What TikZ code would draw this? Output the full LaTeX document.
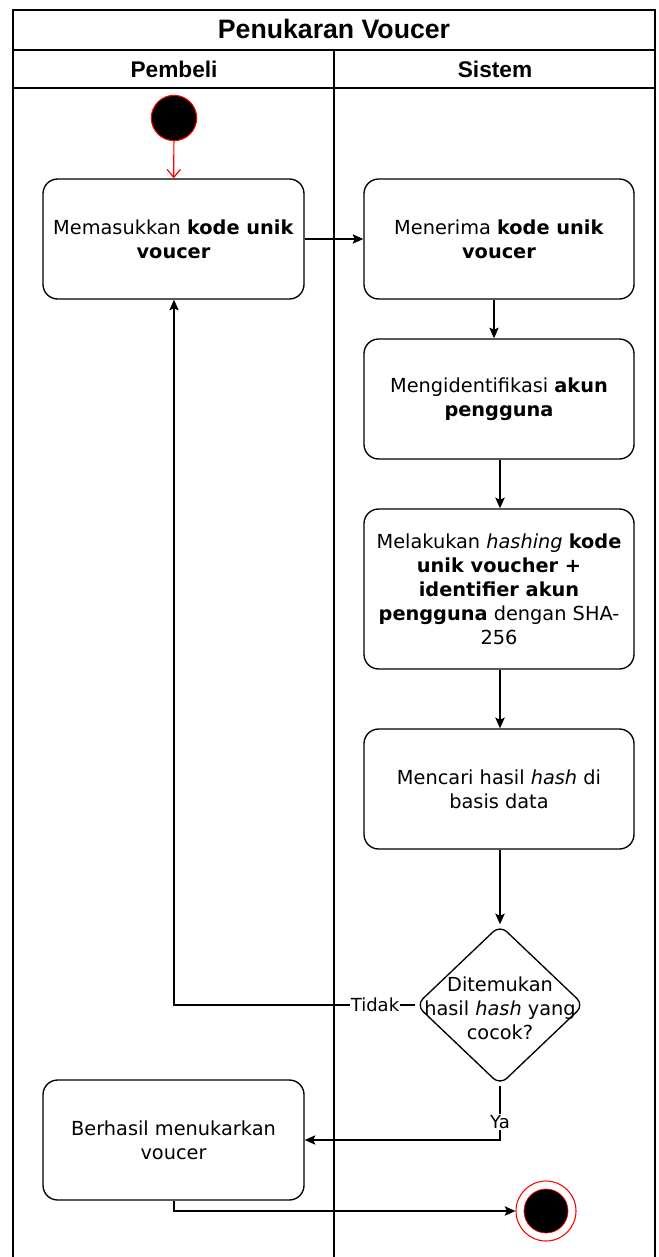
\documentclass[tikz,border=0pt]{standalone}
\usepackage{fontspec}
\setmainfont{DejaVu Sans}
\newfontfamily\headfont{Liberation Sans}
\usetikzlibrary{shapes.geometric,arrows.meta}

\tikzset{
  frame/.style={draw=black, line width=1pt},
  bodyfont/.style={font=\fontsize{14.5}{18}\selectfont},
  actbox/.style={draw=black, line width=1pt, rounded corners=11pt, fill=white,
    align=center, bodyfont, inner sep=2pt},
  decision/.style={draw=black, line width=1pt, diamond, rounded corners=7pt, fill=white,
    minimum width=126pt, minimum height=120pt, inner sep=0pt},
  flow/.style={draw=black, line width=0.9pt, -{Stealth[length=8pt,width=7pt,inset=1.5pt]}},
  lbl/.style={fill=white, inner sep=1pt, font=\fontsize{13.5}{16}\selectfont},
  headtxt/.style={font=\headfont\bfseries\fontsize{17}{20}\selectfont},
}

\begin{document}
\begin{tikzpicture}[x=0.75pt, y=-0.75pt]
  \useasboundingbox (0,0) rectangle (659,1257);

  % swimlane frame
  \draw[frame] (13,1257) -- (13,10) -- (655,10) -- (655,1257);
  \draw[frame] (13,50) -- (655,50);
  \draw[frame] (13,88) -- (655,88);
  \draw[frame] (334,50) -- (334,1257);

  \node[headtxt, font=\headfont\bfseries\fontsize{20}{24}\selectfont] (title) at (334,29) {Penukaran Voucer};
  \node[headtxt] (lane1) at (174,69) {Pembeli};
  \node[headtxt] (lane2) at (495,69) {Sistem};

  % start node
  \node[circle, fill=black, draw=red, line width=0.8pt, minimum size=34pt, inner sep=0pt] (start) at (174,118) {};

  % actions
  \node[actbox, minimum width=195.75pt, minimum height=90pt] (a1) at (173.5,239)
    {Memasukkan \textbf{kode unik}\\ \textbf{voucer}};
  \node[actbox, minimum width=202.5pt, minimum height=90pt] (a2) at (499,239)
    {Menerima \textbf{kode unik}\\ \textbf{voucer}};
  \node[actbox, minimum width=202.5pt, minimum height=90pt] (a3) at (499,399)
    {Mengidentifikasi \textbf{akun}\\ \textbf{pengguna}};
  \node[actbox, minimum width=202.5pt, minimum height=120pt] (a4) at (499,589)
    {Melakukan \textit{hashing} \textbf{kode}\\ \textbf{unik voucher +}\\ \textbf{identifier akun}\\ \textbf{pengguna} dengan SHA-\\ 256};
  \node[actbox, minimum width=202.5pt, minimum height=90pt] (a5) at (499,789)
    {Mencari hasil \textit{hash} di\\ basis data};
  \node[decision, label={[align=center, bodyfont, yshift=-2.5pt]center:{Ditemukan\\ hasil \textit{hash} yang\\ cocok?}}] (d) at (500,1005) {};
  \node[actbox, minimum width=195.75pt, minimum height=90pt] (a6) at (173.5,1140)
    {Berhasil menukarkan\\ voucer};

  % final node
  \node[circle, draw=red, fill=white, line width=0.8pt, minimum size=45pt, inner sep=0pt] (end) at (546,1211) {};
  \node[circle, fill=black, draw=red, line width=0.5pt, minimum size=33pt, inner sep=0pt] (endin) at (546,1211) {};

  % connectors
  \draw[flow, draw=red, -{Straight Barb[length=6pt,width=10pt]}] (start) -- (a1);
  \draw[flow] (a1.east) -- (a2.west);
  \draw[flow] (a2.south -| 494,0) -- (a3.north -| 494,0);
  \draw[flow, line width=1.4pt] (a3.south -| 500,0) -- (a4.north -| 500,0);
  \draw[flow, line width=1.4pt] (a4.south -| 500,0) -- (a5.north -| 500,0);
  \draw[flow, line width=1.4pt] (a5.south -| 500,0) -- (d.north);

  \coordinate (tb) at (174,1005);
  \draw[flow] (d.west) -- (tb) -- (a1.south -| tb);
  \node[lbl] (tidak) at (375,1005) {Tidak};

  \coordinate (yb) at (500,1140);
  \draw[flow] (d.south) -- (yb) -- (a6.east);
  \node[lbl] (ya) at (500,1122) {Ya};

  \coordinate (eb) at (174,1211);
  \draw[flow] (a6.south -| eb) -- (eb) -- (end.west);
\end{tikzpicture}
\end{document}
